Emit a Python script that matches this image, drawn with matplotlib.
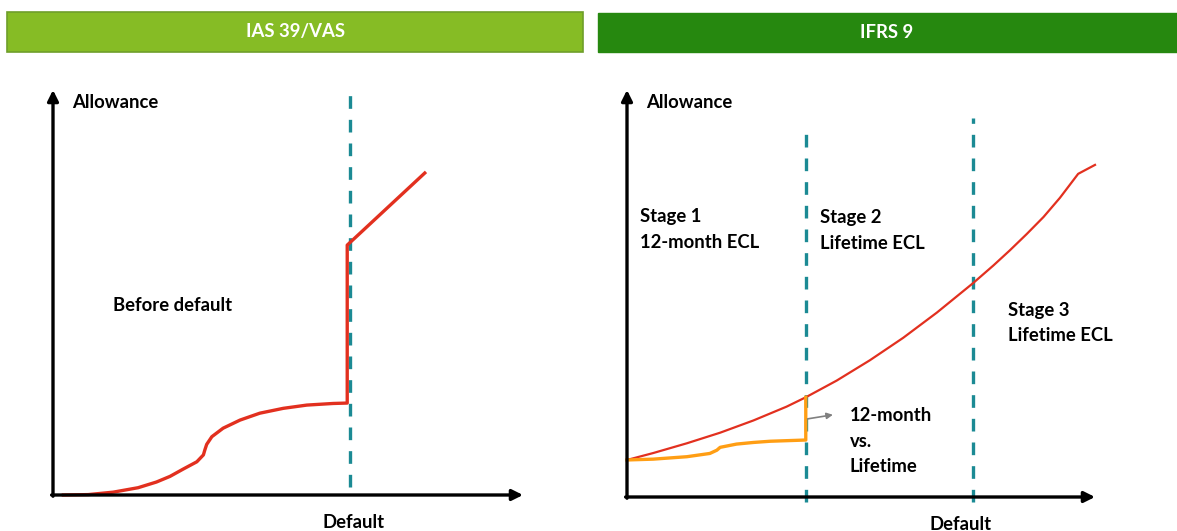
import matplotlib
matplotlib.use('Agg')
import matplotlib.pyplot as plt
from matplotlib.patches import Rectangle

plt.rcParams['font.family'] = ['Lato', 'DejaVu Sans']

# --- data (chart units 0..100 on both axes) ---
# IAS 39 / VAS: allowance before and after default
ias_x = [2.2, 7.5, 12.8, 18.1, 22.0, 24.9, 27.7, 30.6, 32.0, 32.3, 32.7, 33.8,
         36.2, 39.8, 44.0, 49.0, 54.0, 59.6, 62.6, 62.6, 79.1]
ias_y = [0.0, 0.1, 0.7, 1.8, 3.2, 4.6, 6.4, 8.2, 9.9, 11.1, 12.5, 14.4,
         16.5, 18.5, 20.2, 21.4, 22.2, 22.6, 22.7, 61.7, 79.5]
ias_default_x = 63.2

# IFRS 9: lifetime ECL curve and 12-month ECL curve
life_x = [0, 5.6, 12.8, 19.9, 27.0, 34.1, 38.2, 44.8, 51.9, 59.0, 66.2,
          74.0, 78.3, 81.8, 85.4, 89.0, 92.5, 96.4, 100]
life_y = [9.1, 10.8, 13.2, 15.8, 18.8, 22.2, 24.5, 28.6, 33.6, 39.1, 45.3,
          52.6, 56.9, 60.6, 64.6, 68.8, 73.5, 79.4, 81.6]
m12_x = [0, 5.6, 12.8, 17.7, 19.2, 19.9, 23.4, 27.0, 30.6, 38.2, 38.2]
m12_y = [9.1, 9.3, 9.9, 10.7, 11.5, 12.2, 13.0, 13.4, 13.7, 14.0, 24.5]
stage_x = [38.2, 74.0]
stage_top = [90.7, 93.1]

headers = ['IAS 39/VAS', 'IFRS 9']
stage_labels = [('Stage 1', '12-month ECL'), ('Stage 2', 'Lifetime ECL'), ('Stage 3', 'Lifetime ECL')]
stage_label_x = [2.8, 41.2, 81.4]
stage_label_y = [68.8, 68.6, 45.9]

RED = '#E2301F'
ORANGE = '#FF9E14'
TEAL = '#1B8A94'
FS = 13.3

fig = plt.figure(figsize=(11.77, 5.31), dpi=100)
W, H = 1177, 531

# header bars
fig.patches.append(Rectangle((7 / W, 1 - 52 / H), 576 / W, 40 / H, transform=fig.transFigure,
                             facecolor='#86BC25', edgecolor='#6E9E2A', lw=1.2))
fig.patches.append(Rectangle((598 / W, 1 - 52 / H), 579 / W, 39 / H, transform=fig.transFigure,
                             facecolor='#26880F', edgecolor='#26880F', lw=1))
fig.text(295 / W, 1 - 32 / H, headers[0], color='white', fontsize=FS, fontweight='bold',
         ha='center', va='center')
fig.text(887 / W, 1 - 32 / H, headers[1], color='white', fontsize=FS, fontweight='bold',
         ha='center', va='center')


def base_axes(rect):
    ax = fig.add_axes(rect)
    ax.set_xlim(0, 100)
    ax.set_ylim(0, 100)
    ax.axis('off')
    arrow = dict(arrowstyle='-|>', lw=2.4, color='black', mutation_scale=16,
                 shrinkA=0, shrinkB=0)
    ax.annotate('', xy=(100, 0), xytext=(-0.3, 0), arrowprops=arrow, annotation_clip=False)
    ax.annotate('', xy=(0, 100), xytext=(0, -0.3), arrowprops=arrow, annotation_clip=False)
    ax.text(4.0, 97, 'Allowance', fontsize=FS, fontweight='bold', va='center')
    return ax


# left panel
ax1 = base_axes([53 / W, 36 / H, 470 / W, 405 / H])
ax1.plot([ias_default_x, ias_default_x], [2.0, 99.5], color=TEAL, lw=2.4,
         ls=(0, (3.8, 3.3)), clip_on=False)
ax1.plot(ias_x, ias_y, color=RED, lw=2.4, solid_joinstyle='round', clip_on=False)
ax1.text(12.8, 46.7, 'Before default', fontsize=FS, fontweight='bold', va='center')
ax1.text(64.0, -6.9, 'Default', fontsize=FS, fontweight='bold', ha='center', va='center')

# right panel
ax2 = base_axes([627 / W, 34 / H, 468 / W, 407 / H])
for sx, st in zip(stage_x, stage_top):
    ax2.plot([sx, sx], [-1.2, st], color=TEAL, lw=2.4, ls=(0, (3.8, 3.3)), clip_on=False)
ax2.plot(life_x, life_y, color=RED, lw=1.6, solid_joinstyle='round', clip_on=False)
ax2.plot(m12_x, m12_y, color=ORANGE, lw=2.4, solid_joinstyle='round', clip_on=False)
ax2.annotate('', xy=(44.0, 20.2), xytext=(38.6, 19.2),
             arrowprops=dict(arrowstyle='-|>', color='#808080', lw=1.2, mutation_scale=9,
                             shrinkA=0, shrinkB=0))
for (l1, l2), lx, ly in zip(stage_labels, stage_label_x, stage_label_y):
    ax2.text(lx, ly, l1, fontsize=FS, fontweight='bold', va='center')
    ax2.text(lx, ly - 6.2, l2, fontsize=FS, fontweight='bold', va='center')
for i, s in enumerate(['12-month', 'vs.', 'Lifetime']):
    ax2.text(47.6, 20.1 - 6.35 * i, s, fontsize=FS, fontweight='bold', va='center')
ax2.text(71.2, -6.8, 'Default', fontsize=FS, fontweight='bold', ha='center', va='center')

fig.savefig('out.png', dpi=100, facecolor='white')
